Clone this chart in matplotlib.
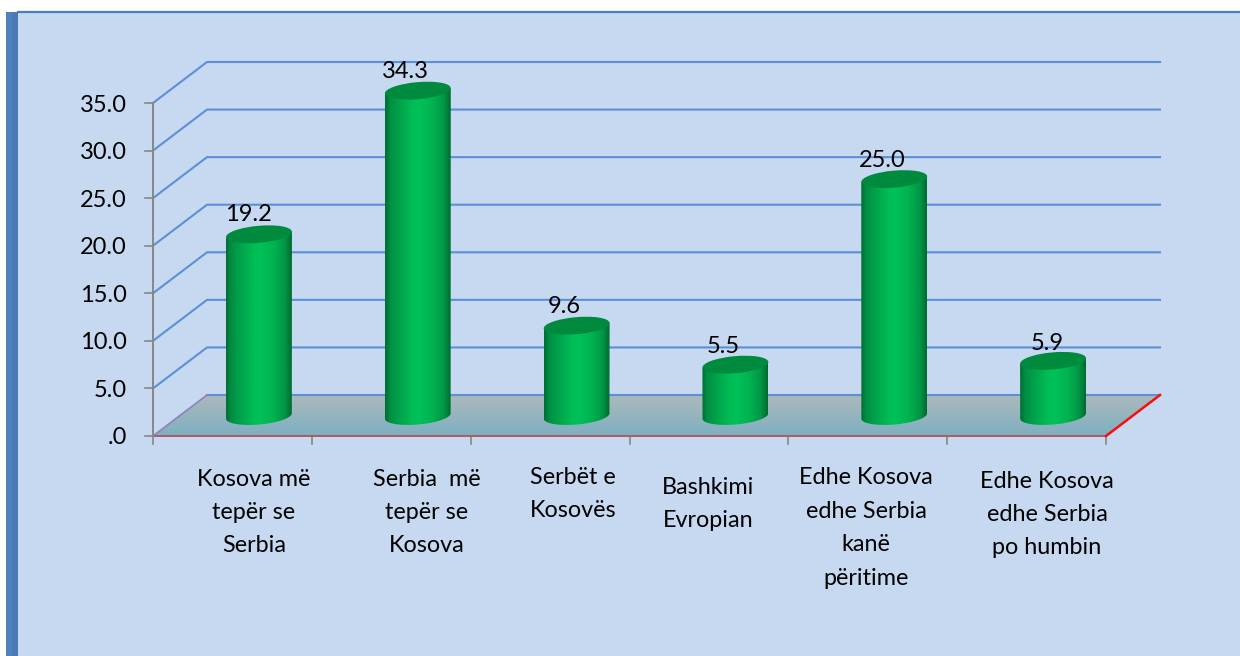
import numpy as np
import matplotlib
matplotlib.use('Agg')
import matplotlib.pyplot as plt
from matplotlib.colors import LinearSegmentedColormap
from matplotlib.patches import Polygon, Ellipse, Rectangle

plt.rcParams['font.family'] = ['Lato', 'DejaVu Sans']

# chart values
categories = ['Kosova më\ntepër se\nSerbia', 'Serbia  më\ntepër se\nKosova', 'Serbët e\nKosovës',
              'Bashkimi\nEvropian', 'Edhe Kosova\nedhe Serbia\nkanë\npëritime', 'Edhe Kosova\nedhe Serbia\npo humbin']
values = [19.2, 34.3, 9.6, 5.5, 25.0, 5.9]
value_labels = ['19.2', '34.3', '9.6', '5.5', '25.0', '5.9']
y_ticks = [0, 5, 10, 15, 20, 25, 30, 35]
y_tick_labels = ['.0', '5.0', '10.0', '15.0', '20.0', '25.0', '30.0', '35.0']

# the fake 3d box, in pixels of the picture
x0, x1 = 153, 1106
y0, y35 = 436, 103
dx, dy = 54, -41
bar_w = 66
ell_h = 17
tilt = -5
# hand placed text, as in the original
label_x = [254, 427, 573, 708, 866, 1047]
label_y = [479, 479, 477, 487, 478, 481]
value_dx = [-11, -12, -12, -12, -12, -6]
value_dy = [-20, -19, -19, -18, -19, -17]


def val_y(v):
    return y0 + (y35 - y0) * v / 35.0


fig = plt.figure(figsize=(12.4, 6.56), dpi=100, facecolor='white')
ax = fig.add_axes([0, 0, 1, 1])
ax.set_xlim(0, 1240)
ax.set_ylim(656, 0)
ax.axis('off')

# panel and side band
ax.add_patch(Rectangle((18, 12), 1222, 644, fc='#c6d9f1', ec='none', zorder=0))
ax.plot([18, 1240], [12, 12], color='#4a7ebb', lw=1.6, zorder=1)
band = np.array([[0.0, 1.0]])
band_cmap = LinearSegmentedColormap.from_list('band', ['#4f81bd', '#4a7ab5'])
ax.imshow(band, cmap=band_cmap, extent=(6, 18, 656, 12), aspect='auto', zorder=1)

# floor
floor = Polygon([(x0, y0), (x0 + dx, y0 + dy), (x1 + dx, y0 + dy), (x1, y0)], closed=True, fc='none', ec='none', zorder=2)
ax.add_patch(floor)
floor_cmap = LinearSegmentedColormap.from_list('floor', ['#acb9bb', '#7db0c2'])
im = ax.imshow(np.linspace(0, 1, 64).reshape(-1, 1), cmap=floor_cmap, extent=(x0, x1 + dx, y0, y0 + dy),
               aspect='auto', zorder=2)
im.set_clip_path(floor)

# grid lines
for v in y_ticks:
    y = val_y(v)
    if v > 0:
        ax.plot([x0, x0 + dx, x1 + dx], [y, y + dy, y + dy], color='#5b90d8', lw=1.5, zorder=3, solid_joinstyle='miter')
    else:
        ax.plot([x0 + dx, x1 + dx], [y + dy, y + dy], color='#5b90d8', lw=1.5, zorder=3)
ax.plot([x0, x0 + dx], [y0, y0 + dy], color='#8f7fc0', lw=1.2, zorder=3)
ax.plot([x0, x1], [y0, y0], color='#b5575f', lw=1.4, zorder=4)
ax.plot([x1, x1 + dx], [y0, y0 + dy], color='#fa0d0d', lw=1.8, zorder=4)

# axes
ax.plot([x0, x0], [val_y(35), y0], color='#868686', lw=1.4, zorder=5)
for v, s in zip(y_ticks, y_tick_labels):
    y = val_y(v)
    ax.plot([x0 - 8, x0], [y, y], color='#868686', lw=1.2, zorder=5)
    ax.text(127, y + 2, s, ha='right', va='center', fontsize=17, color='black', zorder=6)
step = (x1 - x0) / len(values)
for i in range(len(values) + 1):
    xt = x0 + step * i
    ax.plot([xt, xt], [y0, y0 + 8], color='#868686', lw=1.2, zorder=3)

# cylinders
cyl_cmap = LinearSegmentedColormap.from_list('cyl', [(0, '#006e33'), (0.08, '#009044'), (0.42, '#00bd56'), (0.52, '#00c159'),
                                                     (0.72, '#00b450'), (0.9, '#009545'), (1, '#006a31')])
t = np.radians(tilt)
for i, v in enumerate(values):
    cx = x0 + step * (i + 0.5) + dx / 2 - 0.5
    by = y0 + dy / 2 + 0.5
    ty = by + (val_y(v) - y0) + 1
    th = np.linspace(0, np.pi, 40)
    ex = bar_w / 2 * np.cos(th)
    ey = ell_h / 2 * np.sin(th)
    px = ex * np.cos(t) - ey * np.sin(t)
    py = ex * np.sin(t) + ey * np.cos(t)
    # body: bottom half ellipse, then up over the top edge
    verts = np.column_stack([np.r_[cx + px, cx - bar_w / 2, cx + bar_w / 2],
                             np.r_[by + py, ty + bar_w / 2 * np.sin(-t), ty - bar_w / 2 * np.sin(-t)]])
    body = Polygon(verts, closed=True, fc='none', ec='none', zorder=7)
    ax.add_patch(body)
    grad = ax.imshow(np.linspace(0, 1, 128).reshape(1, -1), cmap=cyl_cmap,
                     extent=(cx - bar_w / 2, cx + bar_w / 2, by + 12, ty - 12), aspect='auto', zorder=7)
    grad.set_clip_path(body)
    ax.add_patch(Ellipse((cx, ty), bar_w, ell_h, angle=tilt, fc='#008a3e', ec='none', zorder=8))
    ax.text(cx + value_dx[i], ty + value_dy[i], value_labels[i], ha='center', va='center', fontsize=17, color='black', zorder=9)

# category labels
for i, s in enumerate(categories):
    for j, line in enumerate(s.split('\n')):
        ax.text(label_x[i], label_y[i] + j * 33.4, line, ha='center', va='center', fontsize=16.8, color='black', zorder=9)

ax.set_xlim(0, 1240)
ax.set_ylim(656, 0)
plt.savefig('out.png', dpi=100, facecolor='white')
